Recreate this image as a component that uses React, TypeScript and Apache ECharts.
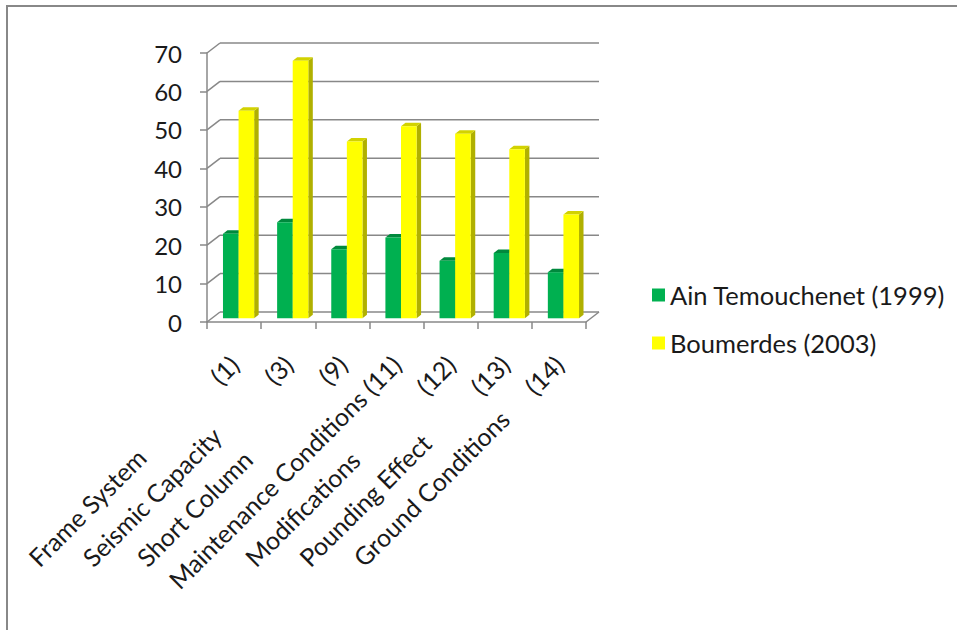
import React, { useEffect, useRef } from "react";
import * as echarts from "echarts";

// Vulnerability factors and the count of buildings affected in each earthquake
const CATEGORY_NAMES = [
  "Frame System",
  "Seismic Capacity",
  "Short Column",
  "Maintenance Conditions",
  "Modifications",
  "Pounding Effect",
  "Ground Conditions",
];
const CATEGORY_CODES = ["(1)", "(3)", "(9)", "(11)", "(12)", "(13)", "(14)"];
const AIN_TEMOUCHENET = [22, 25, 18, 21, 15, 17, 12];
const BOUMERDES = [54, 67, 46, 50, 48, 44, 27];
const SERIES_NAMES = ["Ain Temouchenet (1999)", "Boumerdes (2003)"];
const Y_TICKS = [0, 10, 20, 30, 40, 50, 60, 70];

const FONT_FAMILY = 'Lato, "Open Sans", sans-serif';
const AXIS_FONT_SIZE = 24;
const CAT_FONT_SIZE = 25;
const LEGEND_FONT_SIZE = 25.5;
const TEXT_COLOR = "#1a1a1a";
const LINE_COLOR = "#888888";

// pseudo-3D geometry: back wall offset and bar depth placement
const WALL_DX = 13;
const WALL_DY = -10;
const BAR_SHIFT_X = 4.5;
const BAR_SHIFT_Y = -3.7;
const BAR_SIDE_DX = 4.5;
const BAR_SIDE_DY = -3.5;
const LABEL_SPAN = 285;

const GREEN = { front: "#00B050", top: "#00893d", side: "#007a36" };
const YELLOW = { front: "#FFFF00", top: "#d2d200", side: "#b0b000" };

function measureText(text: string, size: number): number {
  const ctx = document.createElement("canvas").getContext("2d");
  if (!ctx) return text.length * size * 0.5;
  ctx.font = `${size}px ${FONT_FAMILY}`;
  return ctx.measureText(text).width;
}

function makeBarSeries(
  name: string,
  values: number[],
  colors: { front: string; top: string; side: string },
  slot: number
) {
  return {
    type: "custom",
    name,
    z: 3,
    clip: false,
    itemStyle: { color: colors.front },
    data: values.map((v, i) => [i, v]),
    encode: { x: 0, y: 1 },
    renderItem: (_params: any, api: any) => {
      const base = api.coord([api.value(0), 0]);
      const top = api.coord([api.value(0), api.value(1)]);
      const bandW = api.size([1, 0])[0];
      const w = bandW * 0.288;
      const x0 = base[0] + BAR_SHIFT_X + (slot === 0 ? -w : 0);
      const x1 = x0 + w;
      const yB = base[1] + BAR_SHIFT_Y;
      const yT = top[1] + BAR_SHIFT_Y;
      return {
        type: "group",
        children: [
          {
            type: "polygon",
            shape: {
              points: [
                [x1, yT],
                [x1 + BAR_SIDE_DX, yT + BAR_SIDE_DY],
                [x1 + BAR_SIDE_DX, yB + BAR_SIDE_DY],
                [x1, yB],
              ],
            },
            style: { fill: colors.side },
          },
          {
            type: "polygon",
            shape: {
              points: [
                [x0, yT],
                [x1, yT],
                [x1 + BAR_SIDE_DX, yT + BAR_SIDE_DY],
                [x0 + BAR_SIDE_DX, yT + BAR_SIDE_DY],
              ],
            },
            style: { fill: colors.top },
          },
          {
            type: "rect",
            shape: { x: x0, y: yT, width: w, height: yB - yT },
            style: { fill: colors.front },
          },
        ],
      };
    },
  };
}

export default function App() {
  const ref = useRef<HTMLDivElement>(null);

  useEffect(() => {
    if (!ref.current) return;
    const chart = echarts.init(ref.current, null, { renderer: "svg" });

    const gaps = CATEGORY_NAMES.map((n, i) =>
      Math.max(
        measureText(" ", CAT_FONT_SIZE),
        LABEL_SPAN - measureText(n, CAT_FONT_SIZE) - measureText(CATEGORY_CODES[i], CAT_FONT_SIZE)
      )
    );
    const rich: Record<string, any> = {
      n: { fontFamily: FONT_FAMILY, fontSize: CAT_FONT_SIZE, color: TEXT_COLOR },
      c: { fontFamily: FONT_FAMILY, fontSize: CAT_FONT_SIZE, color: TEXT_COLOR },
    };
    gaps.forEach((g, i) => {
      rich["g" + i] = { width: g, fontFamily: FONT_FAMILY, fontSize: CAT_FONT_SIZE };
    });

    chart.setOption({
      animation: false,
      backgroundColor: "#ffffff",
      graphic: [
        {
          type: "polyline",
          shape: { points: [[7, 630], [7, 6], [957, 6]] },
          style: { stroke: LINE_COLOR, lineWidth: 2, fill: "none" },
        },
      ],
      legend: {
        orient: "vertical",
        left: 652,
        top: 282,
        itemWidth: 13,
        itemHeight: 13,
        itemGap: 22,
        icon: "rect",
        padding: 0,
        textStyle: { fontFamily: FONT_FAMILY, fontSize: LEGEND_FONT_SIZE, color: TEXT_COLOR },
        data: SERIES_NAMES,
      },
      grid: { left: 207, top: 53, width: 379, height: 269, containLabel: false },
      xAxis: {
        type: "category",
        data: CATEGORY_NAMES,
        boundaryGap: true,
        axisLine: { show: true, lineStyle: { color: LINE_COLOR, width: 1.5 } },
        axisTick: { show: true, interval: 0, length: 7, lineStyle: { color: LINE_COLOR, width: 1.5 } },
        splitLine: { show: false },
        axisLabel: {
          interval: 0,
          rotate: 45,
          margin: 38,
          fontFamily: FONT_FAMILY,
          fontSize: CAT_FONT_SIZE,
          color: TEXT_COLOR,
          rich,
          formatter: (_v: string, i: number) =>
            `{n|${CATEGORY_NAMES[i]}}{g${i}| }{c|${CATEGORY_CODES[i]}}`,
        },
      },
      yAxis: {
        type: "value",
        min: 0,
        max: 70,
        interval: 10,
        axisLine: { show: true, lineStyle: { color: LINE_COLOR, width: 1.5 } },
        axisTick: { show: true, length: 7, lineStyle: { color: LINE_COLOR, width: 1.5 } },
        splitLine: { show: false },
        axisLabel: {
          margin: 25,
          fontFamily: FONT_FAMILY,
          fontSize: AXIS_FONT_SIZE,
          color: TEXT_COLOR,
        },
      },
      series: [
        {
          // back wall gridlines, side-wall diagonals and floor edge
          type: "custom",
          z: 1,
          silent: true,
          clip: false,
          legendHoverLink: false,
          data: Y_TICKS.map((t) => [0, t]),
          encode: { x: 0, y: 1 },
          renderItem: (params: any, api: any) => {
            const cs = params.coordSys;
            const p = api.coord([0, api.value(1)]);
            const y = p[1];
            const lineStyle = { stroke: LINE_COLOR, lineWidth: 1.5 };
            const children: any[] = [
              {
                type: "line",
                shape: { x1: cs.x, y1: y, x2: cs.x + WALL_DX, y2: y + WALL_DY },
                style: lineStyle,
              },
              {
                type: "line",
                shape: {
                  x1: cs.x + WALL_DX,
                  y1: y + WALL_DY,
                  x2: cs.x + cs.width + WALL_DX,
                  y2: y + WALL_DY,
                },
                style: lineStyle,
              },
            ];
            if (api.value(1) === 0) {
              children.push({
                type: "line",
                shape: {
                  x1: cs.x + cs.width,
                  y1: y,
                  x2: cs.x + cs.width + WALL_DX,
                  y2: y + WALL_DY,
                },
                style: lineStyle,
              });
            }
            return { type: "group", children };
          },
        },
        makeBarSeries(SERIES_NAMES[0], AIN_TEMOUCHENET, GREEN, 0),
        makeBarSeries(SERIES_NAMES[1], BOUMERDES, YELLOW, 1),
      ],
    });

    return () => chart.dispose();
  }, []);

  return (
    <div
      ref={ref}
      style={{ position: "absolute", left: 0, top: 0, width: 957, height: 630, background: "#fff" }}
    />
  );
}
